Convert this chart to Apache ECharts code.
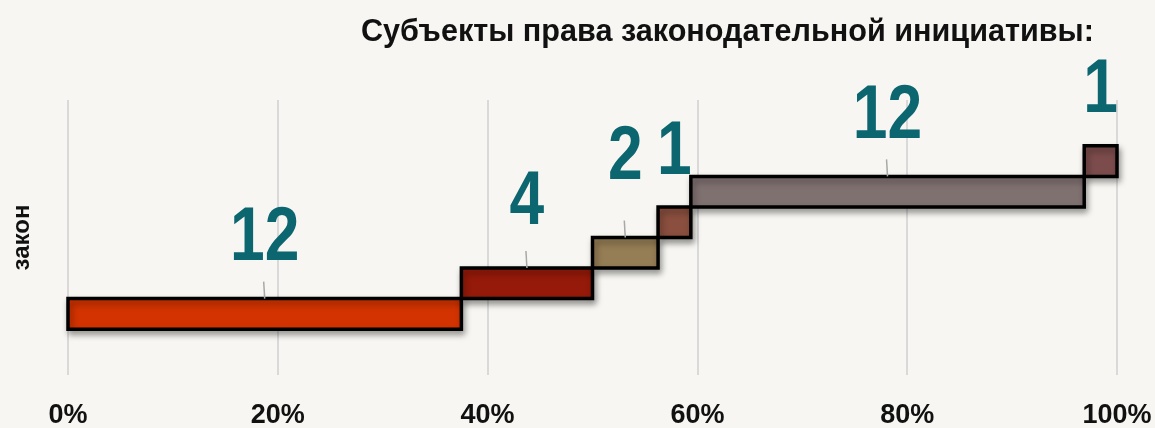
<!DOCTYPE html>
<html>
<head>
<meta charset="utf-8">
<script src="https://cdn.jsdelivr.net/npm/echarts@6/dist/echarts.min.js"></script>
<style>
html,body{margin:0;padding:0;background:#f7f6f2;}
#chart{width:1155px;height:428px;}
</style>
</head>
<body>
<div id="chart"></div>
<script>
// ---- data ----
const titleText = 'Субъекты права законодательной инициативы:';
const categories = ['закон'];
const segmentCounts = [12, 4, 2, 1, 12, 1];
const xTickValues = [0, 20, 40, 60, 80, 100];

// ---- styles (not data) ----
const segmentColors = ['#d23300', '#951a09', '#957d55', '#8a4f3e', '#807171', '#7b4c4b'];
const labelLift = [35, 40, 54, 29, 34, 30];
const hasLeader = [true, true, true, false, true, false];

const FONT = '"Liberation Sans", Arial, sans-serif';
const total = segmentCounts.reduce((a, b) => a + b, 0);
let cum = 0;
const seriesData = segmentCounts.map((v, i) => {
  const start = cum / total * 100;
  cum += v;
  const end = cum / total * 100;
  return [start, end, i, v];
});

const chart = echarts.init(document.getElementById('chart'), null, {renderer: 'canvas'});
chart.setOption({
  backgroundColor: '#f7f6f2',
  animation: false,
  title: {
    text: titleText,
    left: 356, top: 12,
    textStyle: {fontFamily: FONT, fontWeight: 'bold', fontSize: 30.6, color: '#111'}
  },
  grid: {left: 68, right: 38, top: 100, bottom: 53, containLabel: false, outerBoundsMode: 'none'},
  xAxis: {
    type: 'value', min: 0, max: 100, interval: 20,
    axisLine: {show: false}, axisTick: {show: false},
    splitLine: {show: true, lineStyle: {color: '#d9d9d9', width: 2}},
    axisLabel: {
      formatter: v => xTickValues.includes(v) ? v + '%' : '',
      fontFamily: FONT, fontWeight: 'bold', fontSize: 27, color: '#111', margin: 27
    }
  },
  yAxis: {
    type: 'value', min: -2, max: 7,
    axisLine: {show: false}, axisTick: {show: false}, axisLabel: {show: false}, splitLine: {show: false},
    name: categories[0], nameLocation: 'middle', nameRotate: 90, nameGap: 34,
    nameTextStyle: {fontFamily: FONT, fontWeight: 'bold', fontSize: 24, color: '#111'}
  },
  series: [{
    type: 'custom',
    data: seriesData,
    encode: {x: [0, 1], y: 2},
    renderItem: function (params, api) {
      const i = params.dataIndex;
      const p0 = api.coord([api.value(0), api.value(2)]);
      const p1 = api.coord([api.value(1), api.value(2)]);
      const h = api.size([0, 1])[1];
      const top = p0[1] - h / 2;
      const cx = (p0[0] + p1[0]) / 2;
      const children = [{
        type: 'rect',
        shape: {x: p0[0], y: top, width: p1[0] - p0[0], height: h},
        style: {
          fill: segmentColors[i], stroke: '#000', lineWidth: 3.5,
          shadowBlur: 6, shadowOffsetX: 2, shadowOffsetY: 4, shadowColor: 'rgba(0,0,0,0.35)'
        }
      }];
      if (hasLeader[i]) {
        children.push({
          type: 'line',
          shape: {x1: cx, y1: top, x2: cx - 1, y2: top - 17},
          style: {stroke: '#a8a8a8', lineWidth: 1.5}
        });
      }
      children.push({
        type: 'text',
        x: cx, y: top - labelLift[i] + 13,
        scaleX: 0.82,
        style: {
          x: 0, y: 0,
          text: String(api.value(3)),
          align: 'center', verticalAlign: 'bottom',
          font: 'bold 76px ' + FONT,
          fill: '#0b6670'
        }
      });
      return {type: 'group', children: children};
    }
  }]
});
</script>
</body>
</html>
